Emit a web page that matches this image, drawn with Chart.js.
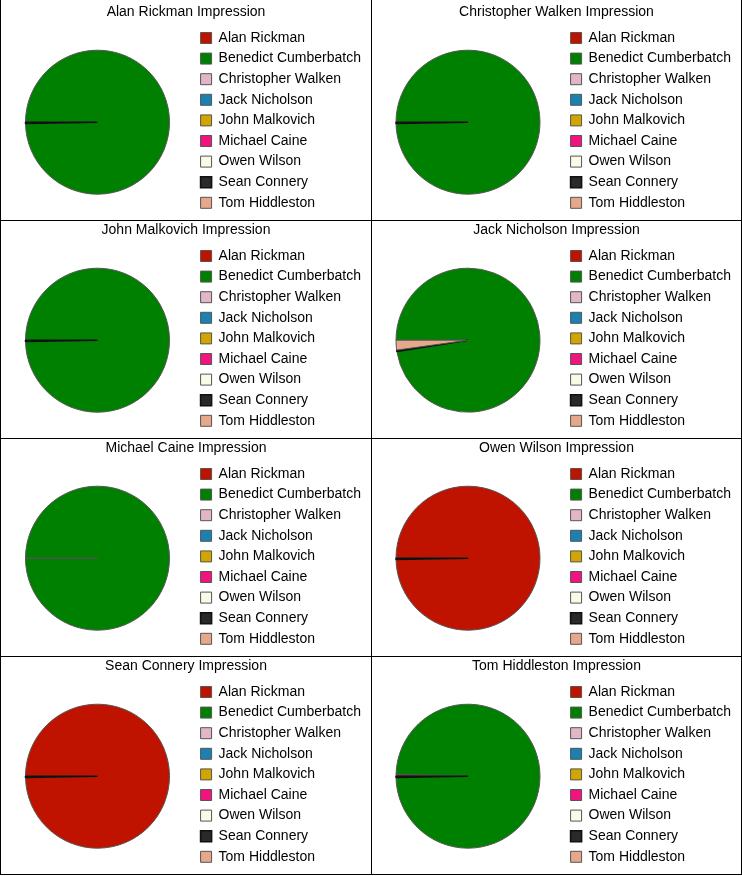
<!DOCTYPE html>
<html>
<head>
<meta charset="utf-8">
<script src="https://cdn.jsdelivr.net/npm/chart.js@4.4.0/dist/chart.umd.min.js"></script>
<style>
    body { margin: 0; background: #fff; }
    #grid {
        position: absolute;
        left: 0;
        top: 0;
        width: 742px;
        display: grid;
        grid-template-columns: 370px 369px;
        grid-template-rows: 220px 217px 217px 217px;
        gap: 1px;
        padding: 0 1px 1px 1px;
        background: #000;
    }
    .cell { background: #fff; position: relative; }
    .cell.first { padding-top: 3px; height: 217px; }
    canvas { display: block; }
</style>
</head>
<body>
<div id="grid"></div>
<script>
const people = [
    'Alan Rickman', 'Benedict Cumberbatch', 'Christopher Walken', 'Jack Nicholson',
    'John Malkovich', 'Michael Caine', 'Owen Wilson', 'Sean Connery', 'Tom Hiddleston'
];
const colors = [
    '#bf1300', '#008000', '#e2b6c8', '#1b80b2', '#d3a500',
    '#f3137f', '#fafae6', '#2a2a2a', '#e6a88a'
];
const borders = [
    '#555', '#555', '#555', '#555', '#555',
    '#555', '#555', '#111', '#555'
];

// share of votes (%) per impression, same order as people
const alanRickman = [0, 99.7, 0, 0, 0, 0, 0, 0.3, 0];
const christopherWalken = [0, 99.7, 0, 0, 0, 0, 0, 0.3, 0];
const johnMalkovich = [0, 99.7, 0, 0, 0, 0, 0, 0.3, 0];
const jackNicholson = [0, 97.5, 0, 0, 0, 0, 0, 0.3, 2.2];
const michaelCaine = [0, 100, 0, 0, 0, 0, 0, 0, 0];
const owenWilson = [99.7, 0, 0, 0, 0, 0, 0, 0.3, 0];
const seanConnery = [99.7, 0, 0, 0, 0, 0, 0, 0.3, 0];
const tomHiddleston = [0.4, 99.3, 0, 0, 0, 0, 0, 0.3, 0];

const charts = [
    ['Alan Rickman Impression', alanRickman],
    ['Christopher Walken Impression', christopherWalken],
    ['John Malkovich Impression', johnMalkovich],
    ['Jack Nicholson Impression', jackNicholson],
    ['Michael Caine Impression', michaelCaine],
    ['Owen Wilson Impression', owenWilson],
    ['Sean Connery Impression', seanConnery],
    ['Tom Hiddleston Impression', tomHiddleston],
];

Chart.defaults.font.family = 'Arial, "Liberation Sans", sans-serif';
Chart.defaults.font.size = 14;
Chart.defaults.color = '#000';

const grid = document.getElementById('grid');

charts.forEach(([title, values], i) => {
    const cell = document.createElement('div');
    cell.className = i < 2 ? 'cell first' : 'cell';
    const canvas = document.createElement('canvas');
    canvas.width = i % 2 === 0 ? 370 : 369;
    canvas.height = 217;
    cell.appendChild(canvas);
    grid.appendChild(cell);

    new Chart(canvas, {
        type: 'pie',
        data: {
            labels: people,
            datasets: [
                {
                    data: values,
                    backgroundColor: colors,
                    borderColor: borders,
                    borderWidth: [1, 1, 1, 1, 1, 1, 1, 1.6, 1],
                },
            ],
        },
        options: {
            responsive: false,
            animation: false,
            devicePixelRatio: 1,
            rotation: -90,
            radius: 72,
            layout: { padding: { top: 1, right: 0 } },
            plugins: {
                title: {
                    display: true,
                    text: title,
                    font: { size: 14, weight: 'normal' },
                    padding: { top: 0, bottom: 3.6 },
                },
                legend: {
                    position: 'right',
                    align: 'start',
                    fullSize: false,
                    labels: {
                        boxWidth: 11,
                        boxHeight: 11,
                        padding: 6.6,
                        font: { size: 14 },
                    },
                },
                tooltip: { enabled: false },
            },
        },
    });
});
</script>
</body>
</html>
